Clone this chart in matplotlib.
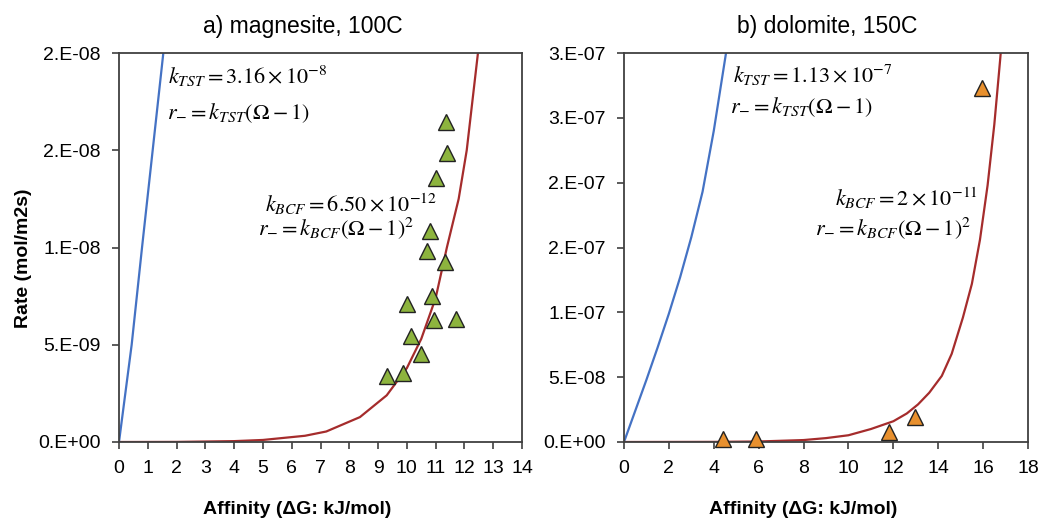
import matplotlib
matplotlib.use("Agg")
from matplotlib import pyplot as plt

plt.rcParams['font.family'] = ['Liberation Sans', 'DejaVu Sans']
plt.rcParams['mathtext.fontset'] = 'stix'

# a) magnesite, 100C  -- curves
mg_tst_x = [0, 0.44, 0.8, 1.17, 1.54, 1.7]
mg_tst_y = [0, 5.0e-9, 1.0e-8, 1.5e-8, 2.0e-8, 2.2e-8]
mg_bcf_x = [0, 2, 4, 5, 6.46, 7.2, 8.37, 9.3, 10, 10.5, 11, 11.39, 11.8, 12.08, 12.47, 12.7]
mg_bcf_y = [0, 5e-12, 4.5e-11, 1.05e-10, 3.2e-10, 5.4e-10, 1.28e-9, 2.4e-9, 3.8e-9,
            5.3e-9, 7.4e-9, 1.0e-8, 1.25e-8, 1.5e-8, 2.0e-8, 2.25e-8]
mg_obs_x = [11.35, 11.40, 11.00, 10.82, 10.70, 11.32, 9.99, 10.86, 10.94, 11.70,
            10.16, 10.48, 9.30, 9.85]
mg_obs_y = [1.643e-8, 1.488e-8, 1.356e-8, 1.084e-8, 9.81e-9, 9.26e-9, 7.11e-9, 7.49e-9,
            6.29e-9, 6.34e-9, 5.43e-9, 4.54e-9, 3.40e-9, 3.54e-9]
mg_xticks = list(range(0, 15))
mg_yticks = [0, 5e-9, 1e-8, 1.5e-8, 2e-8]
mg_ylabels = ['0.E+00', '5.E-09', '1.E-08', '2.E-08', '2.E-08']

# b) dolomite, 150C
dol_tst_x = [0, 0.5, 1.0, 1.5, 2.0, 2.5, 3.0, 3.5, 4.0, 4.5, 4.8]
dol_tst_y = [0, 2.4e-8, 4.8e-8, 7.3e-8, 9.9e-8, 1.27e-7, 1.58e-7, 1.93e-7, 2.4e-7,
             2.95e-7, 3.28e-7]
dol_bcf_x = [0, 4, 6, 8, 9, 10, 11, 12, 12.6, 13.1, 13.6, 14.16, 14.6, 15.1, 15.5,
             15.86, 16.2, 16.5, 16.76, 17.0]
dol_bcf_y = [0, 1e-10, 4e-10, 1.5e-9, 3e-9, 5.2e-9, 1.0e-8, 1.6e-8, 2.2e-8, 2.9e-8,
             3.8e-8, 5.1e-8, 6.8e-8, 9.6e-8, 1.22e-7, 1.56e-7, 1.98e-7, 2.45e-7,
             2.95e-7, 3.45e-7]
dol_obs_x = [4.42, 5.88, 11.82, 12.97, 15.97]
dol_obs_y = [2.0e-9, 2.0e-9, 7.9e-9, 1.95e-8, 2.73e-7]
dol_xticks = list(range(0, 19, 2))
dol_yticks = [0, 5e-8, 1e-7, 1.5e-7, 2e-7, 2.5e-7, 3e-7]
dol_ylabels = ['0.E+00', '5.E-08', '1.E-07', '2.E-07', '2.E-07', '3.E-07', '3.E-07']

blue = '#4472C4'
red = '#A52C2C'
spine = '#404040'

W, H = 1039, 521
fig = plt.figure(figsize=(W / 100, H / 100), dpi=100)
ax1 = fig.add_axes([119 / W, 1 - 442 / H, 403 / W, 389 / H])
ax2 = fig.add_axes([624 / W, 1 - 442 / H, 404 / W, 389 / H])


def panel(ax, tx, ty, bx, by, ox, oy, mcol, xmax, ymax, xt, yt, yl, title, tpos):
    ax.plot(tx, ty, color=blue, lw=1.6)
    ax.plot(bx, by, color=red, lw=1.6)
    ax.plot(ox, oy, ls='none', marker='^', ms=11, mfc=mcol, mec='#222222', mew=1.0,
            clip_on=False, zorder=5)
    ax.set_xlim(0, xmax)
    ax.set_ylim(0, ymax)
    ax.set_xticks(xt)
    ax.set_yticks(yt)
    ax.set_yticklabels(yl)
    ax.tick_params(direction='out', length=5, width=1.2, color=spine, labelsize=14,
                   pad=8)
    for s in ax.spines.values():
        s.set_color(spine)
        s.set_linewidth(1.3)
    ax.text(tpos, 1.051, title, transform=ax.transAxes, ha='center', va='baseline',
            fontsize=16.5)
    ax.text(0.443, -0.185, 'Affinity (ΔG: kJ/mol)', transform=ax.transAxes,
            ha='center', va='baseline', fontsize=14, fontweight='bold')


panel(ax1, mg_tst_x, mg_tst_y, mg_bcf_x, mg_bcf_y, mg_obs_x, mg_obs_y, '#8DB43E',
      14, 2e-8, mg_xticks, mg_yticks, mg_ylabels, 'a) magnesite, 100C', 0.457)
panel(ax2, dol_tst_x, dol_tst_y, dol_bcf_x, dol_bcf_y, dol_obs_x, dol_obs_y, '#E8902E',
      18, 3e-7, dol_xticks, dol_yticks, dol_ylabels, 'b) dolomite, 150C', 0.503)

ax1.text(-0.238, 0.473, 'Rate (mol/m2s)', transform=ax1.transAxes, rotation=90,
         ha='center', va='center', fontsize=14, fontweight='bold')

# formula annotations (pixel positions of the text in the figure)
fs = 16
notes = [
    (168, 76, r'$k_{TST} = 3.16\times10^{-8}$'),
    (167, 113, r'$r_{-} = k_{TST}(\Omega - 1)$'),
    (265, 204, r'$k_{BCF} = 6.50\times10^{-12}$'),
    (258, 228, r'$r_{-} = k_{BCF}(\Omega - 1)^{2}$'),
    (733, 75, r'$k_{TST} = 1.13\times10^{-7}$'),
    (730, 107, r'$r_{-} = k_{TST}(\Omega - 1)$'),
    (835, 198, r'$k_{BCF} = 2\times10^{-11}$'),
    (815, 228, r'$r_{-} = k_{BCF}(\Omega - 1)^{2}$'),
]
for px, py, s in notes:
    fig.text(px / W, 1 - py / H, s, ha='left', va='center', fontsize=fs)

fig.savefig('out.png', dpi=100)
